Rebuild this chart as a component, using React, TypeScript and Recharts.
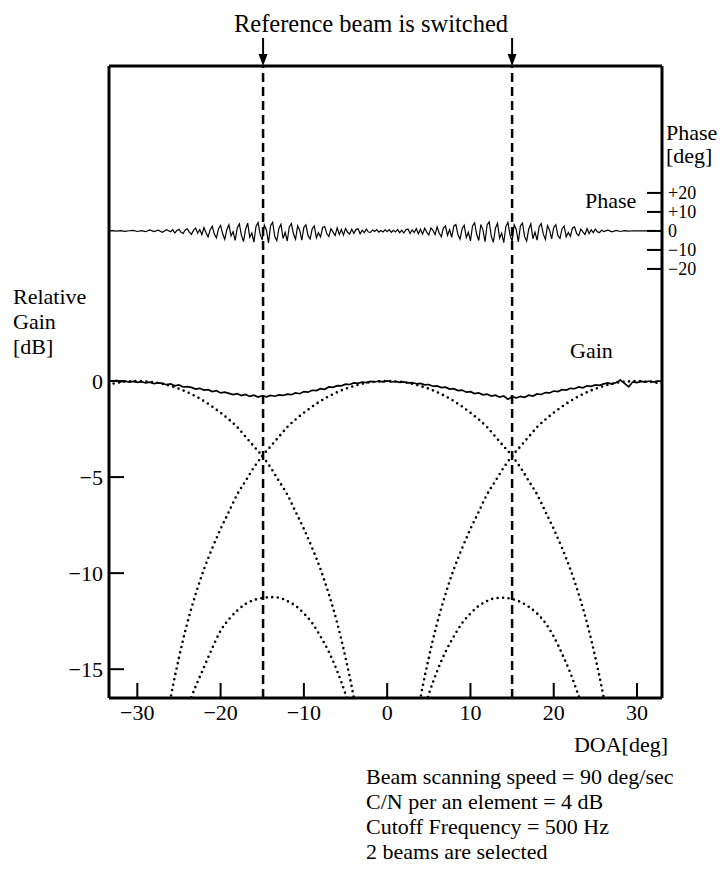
import { LineChart, Line, XAxis, YAxis, ReferenceLine } from 'recharts'

// DOA axis ticks, gain ticks (left), phase ticks (right)
const doaTicks = [-30, -20, -10, 0, 10, 20, 30]
const gainTicks = [-15, -10, -5, 0]
const phaseTicks = [-20, -10, 0, 10, 20]
// DOA where the reference beam is switched
const switchDoa = [-14.9, 15.0]

const notes = [
  'Beam scanning speed = 90 deg/sec',
  'C/N per an element = 4 dB',
  'Cutoff Frequency = 500 Hz',
  '2 beams are selected',
]

// measured gain [DOA deg, dB]
const gainTrace: [number, number][] = [
  [-33.5, 0.02], [-33, -0.01], [-32.5, 0.03], [-32, -0.04], [-31.5, 0.01], [-31, -0.06], [-30.5, -0.02], [-30, -0.07],
  [-29.5, -0.03], [-29, -0.1], [-28.5, -0.06], [-28, -0.13], [-27.5, -0.1], [-27, -0.12], [-26.5, -0.19], [-26, -0.15],
  [-25.5, -0.25], [-25, -0.2], [-24.5, -0.31], [-24, -0.29], [-23.5, -0.33], [-23, -0.42], [-22.5, -0.38], [-22, -0.47],
  [-21.5, -0.45], [-21, -0.55], [-20.5, -0.5], [-20, -0.62], [-19.5, -0.58], [-19, -0.64], [-18.5, -0.71], [-18, -0.66],
  [-17.5, -0.76], [-17, -0.7], [-16.5, -0.8], [-16, -0.74], [-15.5, -0.83], [-15, -0.76], [-14.5, -0.82], [-14, -0.75],
  [-13.5, -0.79], [-13, -0.72], [-12.5, -0.75], [-12, -0.68], [-11.5, -0.71], [-11, -0.62], [-10.5, -0.66], [-10, -0.55],
  [-9.5, -0.58], [-9, -0.48], [-8.5, -0.5], [-8, -0.4], [-7.5, -0.43], [-7, -0.31], [-6.5, -0.33], [-6, -0.24],
  [-5.5, -0.25], [-5, -0.16], [-4.5, -0.18], [-4, -0.1], [-3.5, -0.12], [-3, -0.05], [-2.5, -0.08], [-2, -0.02],
  [-1.5, -0.05], [-1, 0.0], [-0.5, -0.04], [0, 0.01], [0.5, -0.05], [1, -0.02], [1.5, -0.07], [2, -0.04],
  [2.5, -0.1], [3, -0.08], [3.5, -0.14], [4, -0.12], [4.5, -0.2], [5, -0.18], [5.5, -0.27], [6, -0.25],
  [6.5, -0.34], [7, -0.32], [7.5, -0.42], [8, -0.4], [8.5, -0.5], [9, -0.47], [9.5, -0.58], [10, -0.55],
  [10.5, -0.65], [11, -0.62], [11.5, -0.72], [12, -0.68], [12.5, -0.78], [13, -0.74], [13.5, -0.84], [14, -0.78],
  [14.5, -0.95], [15, -0.82], [15.5, -0.88], [16, -0.8], [16.5, -0.85], [17, -0.74], [17.5, -0.78], [18, -0.67],
  [18.5, -0.7], [19, -0.6], [19.5, -0.62], [20, -0.52], [20.5, -0.55], [21, -0.45], [21.5, -0.47], [22, -0.38],
  [22.5, -0.4], [23, -0.31], [23.5, -0.35], [24, -0.25], [24.5, -0.28], [25, -0.2], [25.5, -0.22], [26, -0.15],
  [26.5, -0.1], [27, -0.16], [27.5, -0.08], [28, 0.05], [28.5, -0.12], [29, -0.3], [29.5, -0.04], [30, -0.08],
  [30.5, -0.02], [31, -0.06], [31.5, 0.0], [32, -0.05], [32.5, 0.01], [33, -0.03],
]

// measured phase [DOA deg, deg]
const phaseTrace: [number, number][] = [
  [-33.5, 0], [-33, 0.2], [-32.5, -0.1], [-32, 0.2], [-31.5, -0.2], [-31, 0.1], [-30.5, 0.3], [-30, -0.3],
  [-29.5, 0.2], [-29, -0.4], [-28.5, 0.5], [-28, -0.3], [-27.5, 0.4], [-27, -0.7], [-26.5, 0.6],
  [-26, -0.4], [-25.75, 0.6], [-25.5, -1.1], [-25.25, 0.2], [-25, 0.9], [-24.75, -0.7], [-24.5, -1.3], [-24.25, 0.5],
  [-24, 1.1], [-23.75, -0.6], [-23.5, -1.8], [-23.25, 0.4], [-23, 1.5], [-22.75, -1.2], [-22.5, 0.7], [-22.25, -2.0],
  [-22, 1.8], [-21.75, -0.9], [-21.5, -3.1], [-21.25, 0.6], [-21, 2.4], [-20.75, -1.7], [-20.5, -3.6], [-20.25, 1.2],
  [-20, 2.9], [-19.75, -1.5], [-19.5, -4.4], [-19.25, 0.8], [-19, 3.3], [-18.75, -2.6], [-18.5, -0.4], [-18.25, -5.0],
  [-18, 1.6], [-17.75, 3.7], [-17.5, -2.2], [-17.25, -5.6], [-17, 0.9], [-16.75, 4.1], [-16.5, -3.3], [-16.25, -1.1],
  [-16, -5.9], [-15.75, 2.4], [-15.5, 4.4], [-15.25, -1.8], [-15, -4.7], [-14.75, 3.1], [-14.5, 0.5], [-14.25, -6.3],
  [-14, 2.8], [-13.75, 4.6], [-13.5, -2.9], [-13.25, -5.1], [-13, 1.3], [-12.75, 3.5], [-12.5, -4.0], [-12.25, -0.8],
  [-12, -5.3], [-11.75, 2.1], [-11.5, 3.9], [-11.25, -1.6], [-11, -4.4], [-10.75, 2.7], [-10.5, 0.4], [-10.25, -4.9],
  [-10, 1.9], [-9.75, 3.2], [-9.5, -2.5], [-9.25, -4.2], [-9, 1.1], [-8.75, 2.6], [-8.5, -3.6], [-8.25, -0.9],
  [-8, -3.2], [-7.75, 1.8], [-7.5, 2.3], [-7.25, -1.4], [-7, -2.9], [-6.75, 1.2], [-6.5, -0.6], [-6.25, -2.4],
  [-6, 1.6], [-5.75, -1.9], [-5.5, 0.8], [-5.25, -2.2], [-5, 1.3], [-4.75, -0.7], [-4.5, -1.6], [-4.25, 0.9],
  [-4, -1.3], [-3.75, 0.7], [-3.5, 1.1], [-3.25, -1.5], [-3, 0.4], [-2.75, -0.9], [-2.5, 1.0], [-2.25, -0.6],
  [-2, -0.8], [-1.75, 0.5], [-1.5, -0.3], [-1.25, 0.7], [-1, -0.6], [-0.75, 0.2], [-0.5, -0.5], [-0.25, 0.6],
  [0, -0.4], [0.25, 0.7], [0.5, -0.7], [0.75, 0.3], [1, -0.5], [1.25, 0.8], [1.5, -0.9], [1.75, 0.4],
  [2, -1.1], [2.25, 0.6], [2.5, 1.0], [2.75, -1.3], [3, 0.5], [3.25, -0.8], [3.5, 1.2], [3.75, -1.5],
  [4, 0.9], [4.25, -1.7], [4.5, 1.4], [4.75, -0.6], [5, -2.1], [5.25, 1.6], [5.5, 0.3], [5.75, -1.9],
  [6, 2.2], [6.25, -1.2], [6.5, -3.0], [6.75, 1.5], [7, 2.6], [7.25, -2.3], [7.5, 0.6], [7.75, -3.4],
  [8, 2.5], [8.25, 3.4], [8.5, -2.0], [8.75, -4.3], [9, 1.2], [9.25, 3.0], [9.5, -3.5], [9.75, -0.7],
  [10, -5.2], [10.25, 2.6], [10.5, 4.3], [10.75, -1.9], [11, -5.0], [11.25, 3.4], [11.5, 0.6], [11.75, -5.7],
  [12, 3.1], [12.25, 4.8], [12.5, -2.7], [12.75, -6.0], [13, 1.4], [13.25, 4.0], [13.5, -3.8], [13.75, -1.2],
  [14, -6.2], [14.25, 2.3], [14.5, 4.5], [14.75, -2.1], [15, -5.4], [15.25, 3.3], [15.5, 0.8], [15.75, -5.8],
  [16, 2.7], [16.25, 4.2], [16.5, -3.0], [16.75, -5.3], [17, 1.0], [17.25, 3.7], [17.5, -4.1], [17.75, -0.6],
  [18, -4.8], [18.25, 2.2], [18.5, 3.9], [18.75, -1.7], [19, -4.5], [19.25, 2.8], [19.5, 0.4], [19.75, -4.2],
  [20, 1.8], [20.25, 3.3], [20.5, -2.4], [20.75, -3.9], [21, 1.2], [21.25, 2.5], [21.5, -3.1], [21.75, -0.8],
  [22, -2.8], [22.25, 1.6], [22.5, 2.1], [22.75, -1.3], [23, -2.5], [23.25, 1.0], [23.5, -0.5], [23.75, -1.9],
  [24, 1.2], [24.25, -1.4], [24.5, 0.6], [24.75, -0.9], [25, 1.0], [25.25, -0.5], [25.5, -0.8], [25.75, 0.4],
  [26, -0.3], [26.5, 0.4], [27, -0.5], [27.5, 0.3], [28, -0.3], [28.5, 0.2], [29, -0.1], [29.5, 0.1],
  [30, 0], [30.5, 0], [31, 0], [31.5, 0], [32, 0], [32.5, 0], [33, 0],
]

// beam patterns (dotted) [DOA deg, dB]
const beamLeft: [number, number][] = [
  [-33.5, -0.17], [-33, -0.14], [-32, -0.06], [-31, -0.02], [-30, 0], [-29, -0.02], [-28, -0.06], [-27, -0.14],
  [-26, -0.26], [-25, -0.4], [-24, -0.58], [-23, -0.79], [-22, -1.04], [-21, -1.33], [-20, -1.65], [-19, -2.0],
  [-18, -2.4], [-17, -2.9], [-16, -3.4], [-15, -3.9], [-14, -4.5], [-13, -5.2], [-12, -5.9], [-11, -6.8],
  [-10, -7.7], [-9, -8.7], [-8, -9.8], [-7, -11.1], [-6, -12.6], [-5, -14.4], [-4, -16.5], [-3, -19.2],
]
const beamCenter: [number, number][] = [
  [-27, -19.2], [-26, -16.5], [-25, -14.4], [-24, -12.6], [-23, -11.1], [-22, -9.8], [-21, -8.7], [-20, -7.7],
  [-19, -6.8], [-18, -5.9], [-17, -5.2], [-16, -4.5], [-15, -3.9], [-14, -3.4], [-13, -2.9], [-12, -2.4],
  [-11, -2.0], [-10, -1.65], [-9, -1.33], [-8, -1.04], [-7, -0.79], [-6, -0.58], [-5, -0.4], [-4, -0.26],
  [-3, -0.14], [-2, -0.06], [-1, -0.02], [0, 0], [1, -0.02], [2, -0.06], [3, -0.14], [4, -0.26],
  [5, -0.4], [6, -0.58], [7, -0.79], [8, -1.04], [9, -1.33], [10, -1.65], [11, -2.0], [12, -2.4],
  [13, -2.9], [14, -3.4], [15, -3.9], [16, -4.5], [17, -5.2], [18, -5.9], [19, -6.8], [20, -7.7],
  [21, -8.7], [22, -9.8], [23, -11.1], [24, -12.6], [25, -14.4], [26, -16.5], [27, -19.2],
]
const beamRight: [number, number][] = [
  [3, -19.2], [4, -16.5], [5, -14.4], [6, -12.6], [7, -11.1], [8, -9.8], [9, -8.7], [10, -7.7],
  [11, -6.8], [12, -5.9], [13, -5.2], [14, -4.5], [15, -3.9], [16, -3.4], [17, -2.9], [18, -2.4],
  [19, -2.0], [20, -1.65], [21, -1.33], [22, -1.04], [23, -0.79], [24, -0.58], [25, -0.4], [26, -0.26],
  [27, -0.14], [28, -0.06], [29, -0.02], [30, 0], [31, -0.02], [32, -0.06], [33, -0.14],
]
const lobeLeft: [number, number][] = [
  [-24, -17.0], [-23, -15.9], [-22, -14.9], [-21, -13.9], [-20, -13.0], [-19, -12.4], [-18, -11.95], [-17, -11.6],
  [-16, -11.4], [-15, -11.3], [-14, -11.25], [-13, -11.28], [-12, -11.45], [-11, -11.7], [-10, -12.1], [-9, -12.6],
  [-8, -13.3], [-7, -14.1], [-6, -15.1], [-5, -16.3], [-4.5, -17.0],
]
const lobeRight: [number, number][] = [
  [4.5, -17.0], [5, -16.3], [6, -15.1], [7, -14.1], [8, -13.3], [9, -12.6], [10, -12.1], [11, -11.7],
  [12, -11.45], [13, -11.3], [14, -11.28], [15, -11.35], [16, -11.5], [17, -11.75], [18, -12.1], [19, -12.6],
  [20, -13.3], [21, -14.2], [22, -15.2], [23, -16.4], [24, -17.6],
]

const pts = (rows: [number, number][]) => rows.map(([x, y]) => ({ x, y }))

const minus = (v: number) => (v < 0 ? `\u2212${-v}` : `${v}`)
const signed = (v: number) => (v > 0 ? `+${v}` : minus(v))

const FONT = '"Liberation Serif", "Times New Roman", serif'
const tickFont = { fontSize: 22, fill: '#000', fontFamily: FONT }
const phaseTickFont = { fontSize: 18, fill: '#000', fontFamily: FONT }
const frame = { stroke: '#000', strokeWidth: 3 }
const tickStroke = { stroke: '#000', strokeWidth: 2 }

const SwitchArrow = (props: any) => {
  const { x, y } = props.viewBox
  return (
    <g>
      <line x1={x} x2={x} y1={y - 28} y2={y - 9} stroke="#000" strokeWidth={2} />
      <polygon points={`${x - 4.5},${y - 12} ${x + 4.5},${y - 12} ${x},${y}`} fill="#000" />
    </g>
  )
}

const dotted = {
  stroke: '#000',
  strokeWidth: 2.6,
  strokeDasharray: '0 5.5',
  strokeLinecap: 'round' as const,
  dot: false,
  isAnimationActive: false,
  yAxisId: 'gain',
  dataKey: 'y',
  type: 'monotone' as const,
}

export default function App() {
  return (
    <div
      style={{
        position: 'absolute',
        left: 0,
        top: 0,
        width: 727,
        height: 879,
        background: '#fff',
        fontFamily: FONT,
        fontSize: 22,
        color: '#000',
      }}
    >
      <LineChart width={727} height={879} margin={{ top: 46, right: 15, bottom: 151, left: 69 }}>
        <XAxis
          dataKey="x"
          type="number"
          domain={[-33.4, 33]}
          allowDataOverflow
          ticks={doaTicks}
          tickFormatter={minus}
          height={30}
          tickSize={-15}
          tickMargin={21}
          interval={0}
          tick={tickFont}
          axisLine={frame}
          tickLine={tickStroke}
        />
        <XAxis
          xAxisId="top"
          orientation="top"
          type="number"
          domain={[-33.4, 33]}
          allowDataOverflow
          ticks={doaTicks}
          height={20}
          tickSize={-15}
          tick={false}
          interval={0}
          axisLine={frame}
          tickLine={tickStroke}
        />
        <YAxis
          yAxisId="gain"
          type="number"
          domain={[-16.5, 16.4]}
          allowDataOverflow
          ticks={gainTicks}
          tickFormatter={minus}
          width={40}
          tickSize={-15}
          tickMargin={21}
          interval={0}
          tick={tickFont}
          axisLine={frame}
          tickLine={tickStroke}
        />
        <YAxis
          yAxisId="phase"
          orientation="right"
          type="number"
          domain={[-245.8, 86.8]}
          allowDataOverflow
          ticks={phaseTicks}
          tickFormatter={signed}
          width={50}
          tickSize={-15}
          tickMargin={21}
          interval={0}
          tick={phaseTickFont}
          axisLine={frame}
          tickLine={tickStroke}
        />

        {switchDoa.map((d) => (
          <ReferenceLine
            key={d}
            x={d}
            yAxisId="gain"
            stroke="#000"
            strokeWidth={2.5}
            strokeDasharray="9 5"
            label={SwitchArrow}
          />
        ))}

        <Line data={pts(beamLeft)} {...dotted} />
        <Line data={pts(beamCenter)} {...dotted} />
        <Line data={pts(beamRight)} {...dotted} />
        <Line data={pts(lobeLeft)} {...dotted} />
        <Line data={pts(lobeRight)} {...dotted} />

        <Line
          data={pts(gainTrace)}
          yAxisId="gain"
          dataKey="y"
          type="linear"
          stroke="#000"
          strokeWidth={1.7}
          dot={false}
          isAnimationActive={false}
        />
        <Line
          data={pts(phaseTrace)}
          yAxisId="phase"
          dataKey="y"
          type="linear"
          stroke="#000"
          strokeWidth={1.2}
          dot={false}
          isAnimationActive={false}
        />
      </LineChart>

      <div
        style={{ position: 'absolute', left: 71, width: 600, top: 10, textAlign: 'center', fontSize: 24.5, lineHeight: '28px' }}
      >
        Reference beam is switched
      </div>
      <div style={{ position: 'absolute', left: 13, top: 284, lineHeight: '25px' }}>
        Relative
        <br />
        Gain
        <br />
        [dB]
      </div>
      <div style={{ position: 'absolute', left: 666, top: 121, lineHeight: '23px' }}>
        Phase
        <br />
        [deg]
      </div>
      <div style={{ position: 'absolute', left: 585, top: 188, lineHeight: '25px' }}>Phase</div>
      <div style={{ position: 'absolute', left: 570, top: 338, lineHeight: '25px' }}>Gain</div>
      <div style={{ position: 'absolute', right: 727 - 668, top: 732, lineHeight: '25px' }}>DOA[deg]</div>
      <div style={{ position: 'absolute', left: 366, top: 764, lineHeight: '25px' }}>
        {notes.map((n) => (
          <div key={n}>{n}</div>
        ))}
      </div>
    </div>
  )
}
